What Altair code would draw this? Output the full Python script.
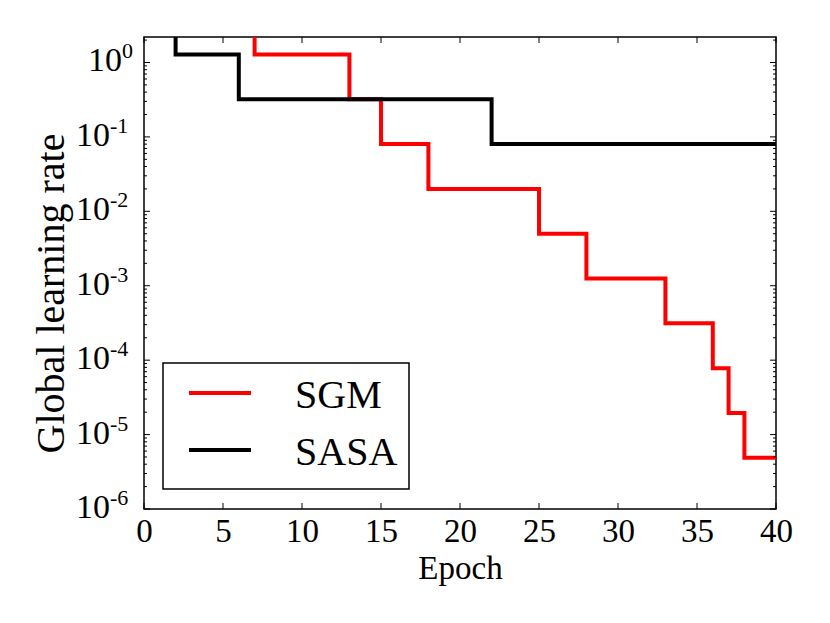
import altair as alt
import pandas as pd

# ---- data ----
sgm_epoch = [0, 7, 13, 15, 18, 25, 28, 33, 36, 37, 38, 40]
sgm_lr = [5.12, 1.28, 0.32, 0.08, 0.02, 0.005, 0.00125, 3.125e-4, 7.8125e-5, 1.953e-5, 4.883e-6, 4.883e-6]
sasa_epoch = [0, 2, 6, 22, 40]
sasa_lr = [5.12, 1.28, 0.32, 0.08, 0.08]

x_ticks = [0, 5, 10, 15, 20, 25, 30, 35, 40]
y_major = [1e-6, 1e-5, 1e-4, 1e-3, 1e-2, 1e-1, 1.0]
y_exp = ["-6", "-5", "-4", "-3", "-2", "-1", "0"]
y_top = 2.2
y_minor = [m * d for d in y_major for m in range(2, 10) if m * d <= y_top]

W, H = 632, 472
FONT = "Liberation Serif"

df = pd.concat([
    pd.DataFrame({"epoch": sgm_epoch, "lr": sgm_lr, "series": "SGM"}),
    pd.DataFrame({"epoch": sasa_epoch, "lr": sasa_lr, "series": "SASA"}),
])

xs = alt.Scale(domain=[0, 40], nice=False, zero=False)
ys = alt.Scale(type="log", domain=[1e-6, y_top], nice=False)

x_axis = alt.Axis(values=x_ticks, ticks=False, tickSize=0, domain=False, grid=False,
                  labelFont=FONT, labelFontSize=33, labelColor="black", labelPadding=6,
                  labelFlush=False,
                  title="Epoch", titleFont=FONT, titleFontSize=33, titleFontWeight="normal",
                  titleColor="black", titleY=69, titleBaseline="alphabetic")
y_axis = alt.Axis(values=y_major, ticks=False, tickSize=0, domain=False, grid=False,
                  labels=False,
                  title="Global learning rate", titleFont=FONT, titleFontSize=40,
                  titleFontWeight="normal", titleColor="black", titleX=-81, titleY=256,
                  titleBaseline="alphabetic", titleAlign="center")

lines = alt.Chart(df).mark_line(interpolate="step-after", strokeWidth=4, clip=True).encode(
    x=alt.X("epoch:Q", scale=xs, axis=x_axis),
    y=alt.Y("lr:Q", scale=ys, axis=y_axis),
    color=alt.Color("series:N", scale=alt.Scale(domain=["SGM", "SASA"], range=["#ff0000", "#000000"]), legend=None),
    detail="series:N",
)

xt = pd.DataFrame({"v": x_ticks})
ymaj = pd.DataFrame({"v": y_major})
ymin = pd.DataFrame({"v": y_minor})

def xtick(y0, y1):
    return alt.Chart(xt).mark_rule(color="black", strokeWidth=1).encode(
        x=alt.X("v:Q", scale=xs), y=alt.value(y0), y2=alt.value(y1))

def ytick(d, x0, x1):
    return alt.Chart(d).mark_rule(color="black", strokeWidth=1).encode(
        y=alt.Y("v:Q", scale=ys), x=alt.value(x0), x2=alt.value(x1))

ticks = [
    xtick(H, H - 6), xtick(0, 6),
    ytick(ymaj, 0, 6), ytick(ymaj, W, W - 6),
    ytick(ymin, 0, 3), ytick(ymin, W, W - 3),
]

# y tick labels: "10" with a raised exponent
ylab = pd.DataFrame({"v": y_major, "exp": y_exp})
ylab_one = ylab[ylab["exp"] == "0"]
ylab_rest = ylab[ylab["exp"] != "0"]

def ylabel_layers(d, xr):
    base = alt.Chart(d).mark_text(font=FONT, fontSize=34, align="right", baseline="alphabetic",
                                  color="black", dy=9).encode(
        y=alt.Y("v:Q", scale=ys), x=alt.value(xr), text=alt.value("10"))
    expo = alt.Chart(d).mark_text(font=FONT, fontSize=22, align="left", baseline="alphabetic",
                                  color="black", dy=-4).encode(
        y=alt.Y("v:Q", scale=ys), x=alt.value(xr), text="exp:N")
    return [base, expo]

ylabels = ylabel_layers(ylab_one, -22) + ylabel_layers(ylab_rest, -34)

one = pd.DataFrame({"a": [0]})
box = alt.Chart(one).mark_rect(fill="white", stroke="black", strokeWidth=1.5).encode(
    x=alt.value(19), x2=alt.value(265), y=alt.value(326), y2=alt.value(452))

leg_layers = []
for name, col, ly, ty in [("SGM", "#ff0000", 356, 371), ("SASA", "#000000", 413, 428)]:
    d = pd.DataFrame({"series": [name]})
    leg_layers.append(alt.Chart(d).mark_rule(color=col, strokeWidth=4).encode(
        x=alt.value(45), x2=alt.value(107), y=alt.value(ly)))
    leg_layers.append(alt.Chart(d).mark_text(font=FONT, fontSize=40, align="left",
                                             baseline="alphabetic", color="black").encode(
        text="series:N", x=alt.value(151), y=alt.value(ty)))

chart = alt.layer(lines, *ticks, *ylabels, box, *leg_layers).properties(
    width=W, height=H,
    background="white",
    autosize=alt.AutoSizeParams(type="none"),
    padding={"left": 136, "top": 29, "right": 30, "bottom": 90},
).configure_view(stroke="black", strokeWidth=1.5)

chart.save("out.html", embed_options={"renderer": "svg", "actions": False})
